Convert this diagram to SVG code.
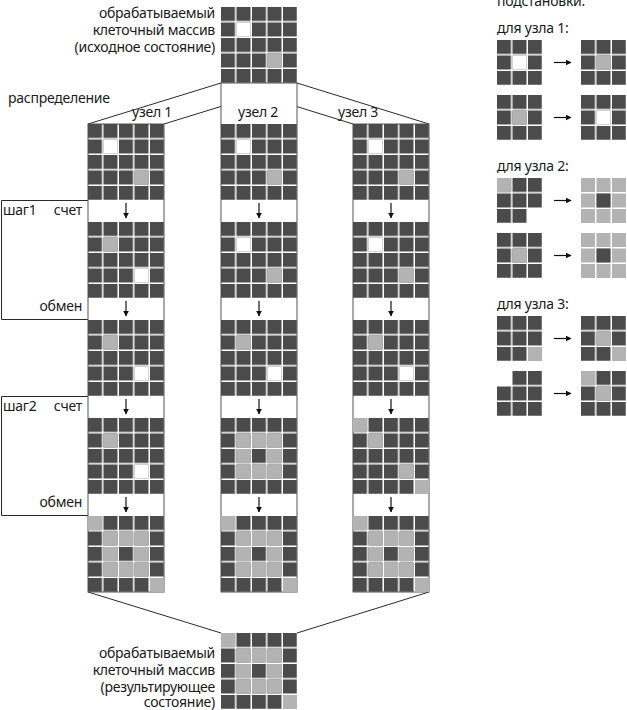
<svg xmlns="http://www.w3.org/2000/svg" xmlns:xlink="http://www.w3.org/1999/xlink" width="627" height="710" viewBox="0 0 627 710">
<style>
text{font-family:"Noto Sans","Open Sans","DejaVu Sans",sans-serif;font-size:14px;letter-spacing:-0.25px;fill:#1a1a1a}
.e{text-anchor:end}
.w{fill:#fff}
.l{fill:#b3b3b3}
.ln{stroke:#2a2a2a;stroke-width:1;fill:none}
.col{stroke:#555;stroke-width:1;fill:#fff}
.ar{stroke:#111;stroke-width:1.2;fill:none}
</style>
<defs>
<pattern id="cells" patternUnits="userSpaceOnUse" width="15.5" height="15.5"><rect width="14" height="14" fill="#4b4b4b"/></pattern>
<marker id="ah" viewBox="0 0 10 10" refX="9" refY="5" markerWidth="6" markerHeight="6" orient="auto" markerUnits="userSpaceOnUse"><path d="M0,0 L10,5 L0,10 Z" fill="#111"/></marker>
<g id="grid"><rect width="76" height="76" fill="url(#cells)"/></g>
<g id="g3"><rect width="45" height="45" fill="url(#cells)"/></g>
<g id="s0"><use xlink:href="#grid"/><rect class="w" x="15.5" y="15.5" width="14" height="14"/><rect class="l" x="46.5" y="46.5" width="14" height="14"/></g>
<g id="s1"><use xlink:href="#grid"/><rect class="l" x="15.5" y="15.5" width="14" height="14"/><rect class="w" x="46.5" y="46.5" width="14" height="14"/></g>
<g id="ring"><use xlink:href="#grid"/>
<rect class="l" x="15.5" y="15.5" width="14" height="14"/><rect class="l" x="31" y="15.5" width="14" height="14"/><rect class="l" x="46.5" y="15.5" width="14" height="14"/>
<rect class="l" x="15.5" y="31" width="14" height="14"/><rect class="l" x="46.5" y="31" width="14" height="14"/>
<rect class="l" x="15.5" y="46.5" width="14" height="14"/><rect class="l" x="31" y="46.5" width="14" height="14"/><rect class="l" x="46.5" y="46.5" width="14" height="14"/></g>
<g id="fin"><use xlink:href="#ring"/><rect class="l" x="0" y="0" width="14" height="14"/><rect class="l" x="62" y="62" width="14" height="14"/></g>
<g id="diag"><use xlink:href="#grid"/><rect class="l" x="0" y="0" width="14" height="14"/><rect class="l" x="15.5" y="15.5" width="14" height="14"/><rect class="l" x="46.5" y="46.5" width="14" height="14"/><rect class="l" x="62" y="62" width="14" height="14"/></g>
<g id="down"><line class="ar" x1="0" y1="3" x2="0" y2="18" marker-end="url(#ah)"/></g>
</defs>

<g id="connectors">
<line class="ln" x1="221" y1="83" x2="88" y2="124"/>
<line class="ln" x1="297" y1="83" x2="164" y2="124"/>
<line class="ln" x1="221" y1="83" x2="353" y2="124"/>
<line class="ln" x1="297" y1="83" x2="429" y2="124"/>
<line class="ln" x1="88" y1="592" x2="221" y2="633"/>
<line class="ln" x1="429" y1="592" x2="297" y2="633"/>
<path class="ln" d="M88,200.5 H1.5 V319.5 H88"/>
<path class="ln" d="M88,396.5 H1.5 V515.5 H88"/>
</g>

<g id="source">
<use xlink:href="#s0" x="221" y="7"/>
<text class="e" x="215" y="18">обрабатываемый</text>
<text class="e" x="215" y="35">клеточный массив</text>
<text class="e" x="215" y="52">(исходное состояние)</text>
</g>

<text x="8" y="103">распределение</text>

<g id="node1">
<rect class="col" x="88" y="124" width="76" height="468"/>
<text x="132" y="117">узел 1</text>
<use xlink:href="#s0" x="88" y="124"/>
<use xlink:href="#s1" x="88" y="222"/>
<use xlink:href="#s1" x="88" y="320"/>
<use xlink:href="#s1" x="88" y="418"/>
<use xlink:href="#fin" x="88" y="516"/>
<use xlink:href="#down" x="126" y="200"/>
<use xlink:href="#down" x="126" y="298"/>
<use xlink:href="#down" x="126" y="396"/>
<use xlink:href="#down" x="126" y="494"/>
</g>

<g id="node2">
<rect class="col" x="221" y="83" width="76" height="509"/>
<text x="238" y="117">узел 2</text>
<use xlink:href="#s0" x="221" y="124"/>
<use xlink:href="#s0" x="221" y="222"/>
<use xlink:href="#s1" x="221" y="320"/>
<use xlink:href="#ring" x="221" y="418"/>
<use xlink:href="#fin" x="221" y="516"/>
<use xlink:href="#down" x="259" y="200"/>
<use xlink:href="#down" x="259" y="298"/>
<use xlink:href="#down" x="259" y="396"/>
<use xlink:href="#down" x="259" y="494"/>
</g>

<g id="node3">
<rect class="col" x="353" y="124" width="76" height="468"/>
<text x="338" y="117">узел 3</text>
<use xlink:href="#s0" x="353" y="124"/>
<use xlink:href="#s0" x="353" y="222"/>
<use xlink:href="#s1" x="353" y="320"/>
<use xlink:href="#diag" x="353" y="418"/>
<use xlink:href="#fin" x="353" y="516"/>
<use xlink:href="#down" x="391" y="200"/>
<use xlink:href="#down" x="391" y="298"/>
<use xlink:href="#down" x="391" y="396"/>
<use xlink:href="#down" x="391" y="494"/>
</g>

<g id="steps">
<text x="3" y="215">шаг1</text>
<text class="e" x="82" y="215">счет</text>
<text class="e" x="82" y="311">обмен</text>
<text x="3" y="411">шаг2</text>
<text class="e" x="82" y="411">счет</text>
<text class="e" x="82" y="507">обмен</text>
</g>

<g id="result">
<use xlink:href="#fin" x="221" y="633"/>
<text class="e" x="215" y="658">обрабатываемый</text>
<text class="e" x="215" y="675">клеточный массив</text>
<text class="e" x="215" y="692">(результирующее</text>
<text class="e" x="215" y="707">состояние)</text>
</g>

<g id="substitutions">
<text x="497" y="6">подстановки:</text>
<text x="497" y="33">для узла 1:</text>
<use xlink:href="#g3" x="497" y="40"/><rect class="w" x="512.5" y="55.5" width="14" height="14"/>
<line class="ar" x1="554" y1="62.5" x2="571" y2="62.5" marker-end="url(#ah)"/>
<use xlink:href="#g3" x="581" y="40"/><rect class="l" x="596.5" y="55.5" width="14" height="14"/>
<use xlink:href="#g3" x="497" y="95"/><rect class="l" x="512.5" y="110.5" width="14" height="14"/>
<line class="ar" x1="554" y1="117.5" x2="571" y2="117.5" marker-end="url(#ah)"/>
<use xlink:href="#g3" x="581" y="95"/><rect class="w" x="596.5" y="110.5" width="14" height="14"/>

<text x="497" y="171">для узла 2:</text>
<use xlink:href="#g3" x="497" y="178"/><rect class="l" x="497" y="178" width="14" height="14"/><rect class="w" x="527" y="208" width="16" height="16"/>
<line class="ar" x1="554" y1="200.5" x2="571" y2="200.5" marker-end="url(#ah)"/>
<g class="l"><rect x="581" y="178" width="45" height="45"/></g>
<g fill="#fff"><rect x="595" y="178" width="1.5" height="45"/><rect x="610.5" y="178" width="1.5" height="45"/><rect x="581" y="192" width="45" height="1.5"/><rect x="581" y="207.5" width="45" height="1.5"/></g>
<rect x="596.5" y="193.5" width="14" height="14" fill="#4b4b4b"/>
<use xlink:href="#g3" x="497" y="233"/><rect class="l" x="512.5" y="248.5" width="14" height="14"/>
<line class="ar" x1="554" y1="255.5" x2="571" y2="255.5" marker-end="url(#ah)"/>
<g class="l"><rect x="581" y="233" width="45" height="45"/></g>
<g fill="#fff"><rect x="595" y="233" width="1.5" height="45"/><rect x="610.5" y="233" width="1.5" height="45"/><rect x="581" y="247" width="45" height="1.5"/><rect x="581" y="262.5" width="45" height="1.5"/></g>
<rect x="596.5" y="248.5" width="14" height="14" fill="#4b4b4b"/>

<text x="497" y="309">для узла 3:</text>
<use xlink:href="#g3" x="497" y="316"/><rect class="l" x="528" y="347" width="14" height="14"/>
<line class="ar" x1="554" y1="338.5" x2="571" y2="338.5" marker-end="url(#ah)"/>
<use xlink:href="#g3" x="581" y="316"/><rect class="l" x="596.5" y="331.5" width="14" height="14"/><rect class="l" x="612" y="347" width="14" height="14"/>
<use xlink:href="#g3" x="497" y="371"/><rect class="w" x="496" y="370" width="16" height="16"/>
<line class="ar" x1="554" y1="393.5" x2="571" y2="393.5" marker-end="url(#ah)"/>
<use xlink:href="#g3" x="581" y="371"/><rect class="l" x="581" y="371" width="14" height="14"/><rect class="l" x="596.5" y="386.5" width="14" height="14"/>
</g>
</svg>
